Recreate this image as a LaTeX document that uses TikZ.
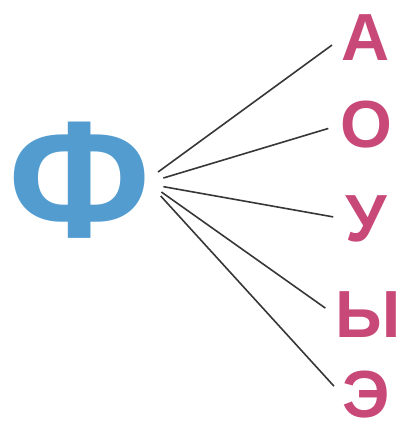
\documentclass[tikz,border=0pt]{standalone}
\usepackage{fontspec}
\setmainfont{Liberation Sans}
\definecolor{phiblue}{RGB}{82,156,208}
\definecolor{vowelpink}{RGB}{200,72,120}
\definecolor{linegray}{RGB}{55,55,55}
\begin{document}
\begin{tikzpicture}[x=0.75pt, y=-0.75pt,
    cons/.style={font=\fontsize{125}{125}\selectfont\bfseries, text=phiblue, inner sep=0pt},
    vowel/.style={font=\fontsize{50}{50}\selectfont\bfseries, text=vowelpink, inner sep=0pt},
    ray/.style={draw=linegray, line width=1.2pt, shorten >=9pt}
  ]
  \useasboundingbox (0,0) rectangle (406,432);
  % consonant
  \node[cons] (fe) at (80,180) {Ф};
  % vowels
  \node[vowel] (a) at (366,38) {А};
  \node[vowel] (o) at (366,125) {О};
  \node[vowel] (u) at (366,219) {У};
  \node[vowel] (y) at (368,315) {Ы};
  \node[vowel] (e) at (366,395) {Э};
  % rays
  \draw[ray] ([xshift=5pt, yshift=6pt]fe.east) -- (a.west);
  \draw[ray] ([xshift=9pt, yshift=1.5pt]fe.east) -- (o.west);
  \draw[ray] ([xshift=9pt, yshift=-5pt]fe.east) -- (u.west);
  \draw[ray] ([xshift=7.5pt, yshift=-9pt]fe.east) -- (y.west);
  \draw[ray] ([xshift=7pt, yshift=-12pt]fe.east) -- (e.west);
\end{tikzpicture}
\end{document}
